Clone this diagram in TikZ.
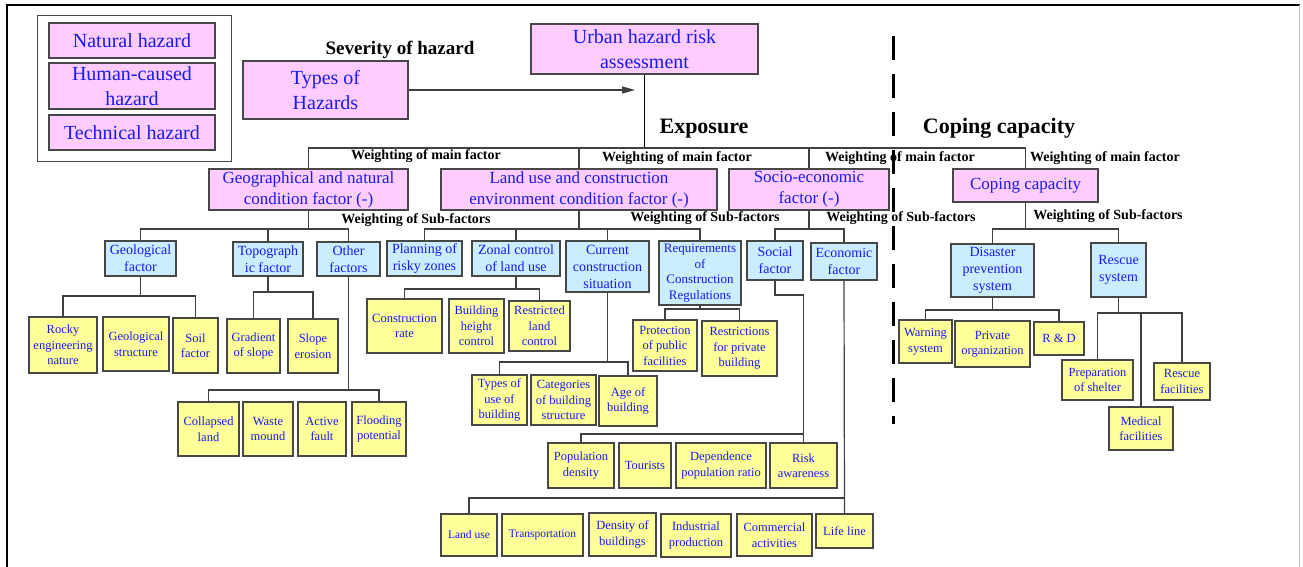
\documentclass[tikz,border=0pt]{standalone}
\usepackage{fontspec}
\setmainfont{Liberation Serif}
\usetikzlibrary{arrows.meta}
\definecolor{pinkc}{HTML}{FFCCFF}
\definecolor{bluec}{HTML}{CCECFF}
\definecolor{yellowc}{HTML}{FFFF99}
\definecolor{txtblue}{RGB}{25,25,245}
\tikzset{
  box/.style={draw=black!72, line width=1.2pt, inner sep=1pt, align=center, text=txtblue},
  pinkA/.style={box, fill=pinkc, font=\fontsize{20}{25}\selectfont},
  pinkB/.style={box, fill=pinkc, font=\fontsize{17}{21}\selectfont},
  bluebox/.style={box, fill=bluec, font=\fontsize{14}{17}\selectfont},
  bluesmall/.style={box, fill=bluec, font=\fontsize{13}{15.6}\selectfont},
  yellowbox/.style={box, fill=yellowc, font=\fontsize{12.5}{15.5}\selectfont},
  yellowsmall/.style={box, fill=yellowc, font=\fontsize{11.5}{14}\selectfont},
  legendbox/.style={draw=black!72, line width=1pt},
  wlabel/.style={font=\bfseries\fontsize{14}{16}\selectfont, inner sep=0pt},
  sevlabel/.style={font=\bfseries\fontsize{19}{22}\selectfont, inner sep=0pt},
  biglabel/.style={font=\bfseries\fontsize{22}{26}\selectfont, inner sep=0pt},
  conn/.style={draw=black!75, line width=1.2pt},
  mainconn/.style={draw=black, line width=1.6pt},
}
\newcommand\bx[7]{\node[#1,minimum width={(#5)-(#3)},minimum height={(#6)-(#4)}] (#2) at ({((#3)+(#5))/2},{((#4)+(#6))/2}) {#7};}
\newcommand\treebar[4]{% parent, level, left child, right child
  \draw[conn] (#1.south) -- (#1.south |- #2);
  \draw[conn] (#3.north) -- (#3.north |- #2) -- (#4.north |- #2) -- (#4.north);}
\newcommand\dropto[2]{\draw[conn] (#1.north) -- (#1.north |- #2);}
\begin{document}
\begin{tikzpicture}[x=1pt,y=-1pt]
\useasboundingbox (0,0) rectangle (1303,567);
% frame
\draw[line width=2pt] (7,567) -- (7,5) -- (1300,5);
\draw[black!25, line width=1pt] (1299,5) -- (1299,567);

% legend
\bx{legendbox}{legend}{37}{16}{231}{161}{}
\bx{pinkA}{nat}{49}{23}{215}{58}{Natural hazard}
\bx{pinkA}{human}{49}{63}{215}{109}{Human-caused\\hazard}
\bx{pinkA}{tech}{49}{115}{215}{150}{Technical hazard}

% top
\bx{pinkA}{types}{243}{61}{408}{119}{Types of\\Hazards}
\bx{pinkA}{urban}{531}{24}{758}{74}{Urban hazard risk\\assessment}
\node[sevlabel] (sev) at (400,50) {Severity of hazard};
\node[biglabel] (expo) at (704,129) {Exposure};
\node[biglabel] (copl) at (999,128) {Coping capacity};

% dashed separator
\coordinate (dashtop) at (893,36);
\coordinate (dashbot) at (893,424);
\draw[line width=3pt, dash pattern=on 24pt off 14pt] (dashtop) -- (dashbot);

% main factors
\bx{pinkB}{geog}{209}{169}{408}{210}{Geographical and natural\\condition factor (-)}
\bx{pinkB}{landuse}{441}{169}{717}{210}{Land use and construction\\environment condition factor (-)}
\bx{pinkB}{socio}{729}{169}{889}{210}{Socio-economic\\factor (-)}
\bx{pinkB}{coping}{953}{169}{1098}{202}{Coping capacity}

% sub factors
\bx{bluebox}{geolf}{105}{241}{176}{276}{Geological\\factor}
\bx{bluebox}{topo}{233}{242}{303}{276}{Topograph\\ic factor}
\bx{bluebox}{other}{317}{242}{380}{276}{Other\\factors}
\bx{bluebox}{plan}{387}{241}{462}{276}{Planning of\\risky zones}
\bx{bluebox}{zonal}{472}{241}{560}{276}{Zonal control\\of land use}
\bx{bluebox}{current}{566}{241}{649}{292}{Current\\construction\\situation}
\bx{bluesmall}{req}{659}{241}{741}{305}{Requirements\\of\\Construction\\Regulations}
\bx{bluebox}{social}{747}{241}{803}{280}{Social\\factor}
\bx{bluebox}{econ}{811}{243}{877}{280}{Economic\\factor}
\bx{bluebox}{disaster}{951}{244}{1034}{297}{Disaster\\prevention\\system}
\bx{bluebox}{rescue}{1091}{243}{1146}{297}{Rescue\\system}

% leaves
\bx{yellowbox}{rocky}{29}{317}{97}{373}{Rocky\\engineering\\nature}
\bx{yellowbox}{gstruct}{103}{317}{169}{371}{Geological\\structure}
\bx{yellowbox}{soil}{173}{318}{218}{373}{Soil\\factor}
\bx{yellowbox}{grad}{227}{319}{280}{373}{Gradient\\of slope}
\bx{yellowbox}{erosion}{288}{319}{338}{373}{Slope\\erosion}
\bx{yellowbox}{collapsed}{178}{402}{239}{456}{Collapsed\\land}
\bx{yellowbox}{waste}{243}{402}{293}{456}{Waste\\mound}
\bx{yellowbox}{fault}{298}{402}{346}{456}{Active\\fault}
\bx{yellowbox}{flood}{352}{402}{406}{456}{Flooding\\potential}
\bx{yellowbox}{crate}{367}{299}{442}{353}{Construction\\rate}
\bx{yellowbox}{height}{449}{299}{504}{353}{Building\\height\\control}
\bx{yellowbox}{restricted}{509}{301}{570}{351}{Restricted\\land\\control}
\bx{yellowbox}{protect}{633}{320}{697}{371}{Protection\\of public\\facilities}
\bx{yellowbox}{restr}{702}{321}{777}{376}{Restrictions\\for private\\building}
\bx{yellowbox}{tuse}{472}{375}{527}{425}{Types of\\use of\\building}
\bx{yellowbox}{categ}{531}{375}{596}{425}{Categories\\of building\\structure}
\bx{yellowbox}{age}{599}{376}{657}{426}{Age of\\building}
\bx{yellowbox}{popd}{548}{443}{614}{488}{Population\\density}
\bx{yellowbox}{tourists}{619}{443}{671}{488}{Tourists}
\bx{yellowbox}{depend}{676}{443}{766}{488}{Dependence\\population ratio}
\bx{yellowbox}{risk}{770}{443}{837}{488}{Risk\\awareness}
\bx{yellowsmall}{eland}{441}{514}{497}{556}{Land use}
\bx{yellowsmall}{transp}{502}{514}{583}{556}{Transportation}
\bx{yellowbox}{density}{589}{513}{656}{556}{Density of\\buildings}
\bx{yellowbox}{indus}{661}{514}{731}{557}{Industrial\\production}
\bx{yellowbox}{commerce}{737}{514}{812}{556}{Commercial\\activities}
\bx{yellowbox}{lifeline}{816}{514}{873}{548}{Life line}
\bx{yellowbox}{warning}{899}{320}{952}{363}{Warning\\system}
\bx{yellowbox}{private}{955}{321}{1030}{367}{Private\\organization}
\bx{yellowbox}{rd}{1034}{322}{1084}{355}{R \& D}
\bx{yellowbox}{shelter}{1062}{360}{1133}{400}{Preparation\\of shelter}
\bx{yellowbox}{medical}{1109}{407}{1173}{450}{Medical\\facilities}
\bx{yellowbox}{rfac}{1154}{363}{1210}{400}{Rescue\\facilities}

% weighting labels
\node[wlabel] (wm1) at (426,156) {Weighting of main factor};
\node[wlabel] (wm2) at (677,158) {Weighting of main factor};
\node[wlabel] (wm3) at (900,158) {Weighting of main factor};
\node[wlabel] (wm4) at (1105,158) {Weighting of main factor};
\node[wlabel] (ws1) at (416,220) {Weighting of Sub-factors};
\node[wlabel] (ws2) at (705,218) {Weighting of Sub-factors};
\node[wlabel] (ws3) at (901,218) {Weighting of Sub-factors};
\node[wlabel] (ws4) at (1108,216) {Weighting of Sub-factors};

% level coordinates
\coordinate (mainbar) at (644.5,148);
\coordinate (l229) at (0,229);
\coordinate (l296) at (0,296);
\coordinate (l292) at (0,292);
\coordinate (l390) at (0,390);
\coordinate (l289) at (0,289);
\coordinate (l362) at (0,362);
\coordinate (l309) at (0,309);
\coordinate (l295) at (0,295);
\coordinate (l434) at (0,434);
\coordinate (l498) at (0,498);
\coordinate (l310) at (0,310);
\coordinate (l313) at (0,313);
\coordinate (arrowend) at (635,90);

% top connectors
\draw[draw=black!75, line width=1.2pt, -{Triangle[length=13pt,width=7pt]}] (types.east) -- (arrowend);
\draw[mainconn] (urban.south) -- (mainbar);
\draw[conn] (geog.north) |- (mainbar) -| (coping.north);
\draw[conn] (landuse.north) -- (landuse.north |- mainbar);
\draw[conn] (socio.north) -- (socio.north |- mainbar);

% trees
\treebar{geog}{l229}{geolf}{other}
\dropto{topo}{l229}
\treebar{geolf}{l296}{rocky}{soil}
\treebar{topo}{l292}{grad}{erosion}
\treebar{other}{l390}{collapsed}{flood}
\treebar{landuse}{l229}{plan}{req}
\dropto{zonal}{l229}
\dropto{current}{l229}
\treebar{zonal}{l289}{crate}{restricted}
\treebar{current}{l362}{tuse}{age}
\treebar{req}{l309}{protect}{restr}
\treebar{socio}{l229}{social}{econ}
\draw[conn] (social.south) -- (social.south |- l295) -- (risk.north |- l295) -- (risk.north);
\draw[conn] (popd.north) -- (popd.north |- l434) -- (risk.north |- l434);
\draw[conn] (econ.south) -- (lifeline.north);
\draw[conn] (eland.north) -- (eland.north |- l498) -- (lifeline.north |- l498);
\treebar{coping}{l229}{disaster}{rescue}
\treebar{disaster}{l310}{warning}{rd}
\treebar{rescue}{l313}{shelter}{rfac}
\dropto{medical}{l313}
\end{tikzpicture}
\end{document}
